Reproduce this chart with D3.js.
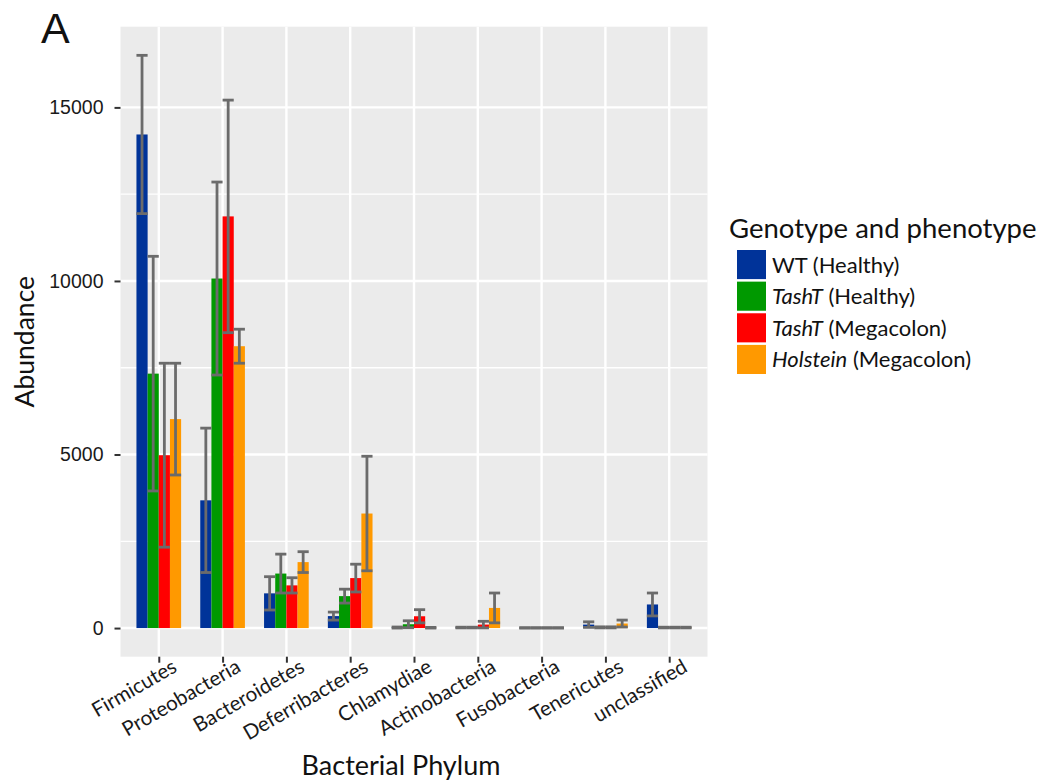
<!DOCTYPE html>
<html>
<head>
<meta charset="utf-8">
<script src="https://cdn.jsdelivr.net/npm/d3@7/dist/d3.min.js"></script>
<style>
  html, body { margin: 0; padding: 0; background: #ffffff; }
  svg { display: block; }
</style>
</head>
<body>
<svg id="chart" width="1053" height="782"></svg>
<script>
// Bacterial phyla on the x axis
const phyla = ["Firmicutes", "Proteobacteria", "Bacteroidetes", "Deferribacteres",
  "Chlamydiae", "Actinobacteria", "Fusobacteria", "Tenericutes", "unclassified"];

// Groups (genotype and phenotype)
const groups = ["wt", "tashH", "tashM", "holM"];
const groupColors = ["#003399", "#009900", "#ff0000", "#ff9900"];

// Mean abundance per group, in phylum order
const meanWT    = [14220, 3680, 1000,  345,  15,  15, 5, 100, 680];
const meanTashH = [ 7330, 10070, 1570,  920, 110,  15, 5,  20,  15];
const meanTashM = [ 4980, 11860, 1230, 1440, 340, 100, 5,  20,  15];
const meanHolM  = [ 6020, 8120, 1900, 3300,  10, 580, 5, 130,  15];

// Standard deviation per group, in phylum order
const sdWT    = [2280, 2080, 480, 115,  15,  10, 5,  80, 330];
const sdTashH = [3380, 2780, 560, 200, 100,  10, 5,  15,  10];
const sdTashM = [2650, 3350, 220, 400, 190,  95, 5,  15,  10];
const sdHolM  = [1610,  490, 300, 1650, 10, 430, 5, 100,  10];

const yTicks = [0, 5000, 10000, 15000];
const yMinor = [2500, 7500, 12500];

const means = [meanWT, meanTashH, meanTashM, meanHolM];
const sds = [sdWT, sdTashH, sdTashM, sdHolM];

const records = [];
phyla.forEach((p, i) => {
  groups.forEach((g, j) => {
    records.push({ phylum: p, group: g, mean: means[j][i], sd: sds[j][i], gi: j });
  });
});

const svg = d3.select("#chart");
const panel = { left: 120.5, right: 707.5, top: 26.7, bottom: 656.7 };

// Discrete x positions with 0.6-step padding on each side
const n = phyla.length;
const step = (panel.right - panel.left) / (n - 1 + 1.2);
const x = d3.scalePoint().domain(phyla)
  .range([panel.left + 0.6 * step, panel.right - 0.6 * step]);
const dodgeWidth = 0.7 * step;
const xg = d3.scaleBand().domain(groups).range([-dodgeWidth / 2, dodgeWidth / 2]).padding(0);
const barW = xg.bandwidth();

// Continuous y with 5% expansion around the data range
const yMax = d3.max(records, d => d.mean + d.sd);
const yLo = Math.min(0, d3.min(records, d => d.mean - d.sd));
const pad = (yMax - yLo) * 0.05;
const y = d3.scaleLinear().domain([yLo - pad, yMax + pad]).range([panel.bottom, panel.top]);

// Panel background and grid
svg.append("rect")
  .attr("x", panel.left).attr("y", panel.top)
  .attr("width", panel.right - panel.left).attr("height", panel.bottom - panel.top)
  .attr("fill", "#ebebeb");

const grid = svg.append("g");
grid.selectAll("line.minor").data(yMinor).enter().append("line")
  .attr("x1", panel.left).attr("x2", panel.right)
  .attr("y1", d => y(d)).attr("y2", d => y(d))
  .attr("stroke", "#ffffff").attr("stroke-width", 1.3);
grid.selectAll("line.major").data(yTicks).enter().append("line")
  .attr("x1", panel.left).attr("x2", panel.right)
  .attr("y1", d => y(d)).attr("y2", d => y(d))
  .attr("stroke", "#ffffff").attr("stroke-width", 2.4);
grid.selectAll("line.vert").data(phyla).enter().append("line")
  .attr("x1", d => x(d)).attr("x2", d => x(d))
  .attr("y1", panel.top).attr("y2", panel.bottom)
  .attr("stroke", "#ffffff").attr("stroke-width", 2.4);

// Bars
svg.append("g").selectAll("rect").data(records).enter().append("rect")
  .attr("x", d => x(d.phylum) + xg(d.group))
  .attr("width", barW)
  .attr("y", d => Math.min(y(d.mean), y(0)))
  .attr("height", d => Math.abs(y(0) - y(d.mean)))
  .attr("fill", d => groupColors[d.gi]);

// Error bars (mean ± sd)
const eb = svg.append("g").attr("stroke", "#6b6b6b").attr("stroke-width", 2.8).attr("fill", "none");
records.forEach(d => {
  const cx = x(d.phylum) + xg(d.group) + barW / 2;
  const hi = y(d.mean + d.sd), lo = y(d.mean - d.sd);
  eb.append("line").attr("x1", cx).attr("x2", cx).attr("y1", hi).attr("y2", lo);
  eb.append("line").attr("x1", cx - barW / 2).attr("x2", cx + barW / 2).attr("y1", hi).attr("y2", hi);
  eb.append("line").attr("x1", cx - barW / 2).attr("x2", cx + barW / 2).attr("y1", lo).attr("y2", lo);
});

// Y axis
const yAxis = svg.append("g").attr("transform", `translate(${panel.left},0)`)
  .call(d3.axisLeft(y).tickValues(yTicks).tickSize(6).tickPadding(11).tickFormat(d3.format("d")));
yAxis.select(".domain").remove();
yAxis.selectAll(".tick line").attr("stroke", "#333333").attr("stroke-width", 2);
yAxis.selectAll(".tick text")
  .attr("font-family", "'Liberation Sans', Arial, sans-serif")
  .attr("font-size", 19.5).attr("fill", "#1a1a1a");

// X axis
const xAxis = svg.append("g").attr("transform", `translate(0,${panel.bottom})`)
  .call(d3.axisBottom(x).tickSize(6).tickFormat(d => d));
xAxis.select(".domain").remove();
xAxis.selectAll(".tick line").attr("stroke", "#333333").attr("stroke-width", 2);
xAxis.selectAll(".tick text")
  .attr("font-family", "Lato, sans-serif")
  .attr("font-size", 20.5).attr("fill", "#1a1a1a")
  .attr("text-anchor", "end")
  .attr("dy", null).attr("y", null)
  .attr("transform", "translate(19,14) rotate(-30)");

// Axis titles
svg.append("text")
  .attr("x", 401).attr("y", 775)
  .attr("text-anchor", "middle")
  .attr("font-family", "Lato, sans-serif").attr("font-size", 27).attr("fill", "#111")
  .text("Bacterial Phylum");

svg.append("text")
  .attr("transform", `translate(34,${(panel.top + panel.bottom) / 2}) rotate(-90)`)
  .attr("text-anchor", "middle")
  .attr("font-family", "Lato, sans-serif").attr("font-size", 26.5).attr("fill", "#111")
  .text("Abundance");

// Panel letter
svg.append("text")
  .attr("x", 41).attr("y", 43)
  .attr("font-family", "'Liberation Sans', Arial, sans-serif").attr("font-size", 43).attr("fill", "#111")
  .text("A");

// Legend
const legend = svg.append("g");
legend.append("text")
  .attr("x", 729).attr("y", 238)
  .attr("font-family", "Lato, sans-serif").attr("font-size", 27.5).attr("fill", "#111")
  .text("Genotype and phenotype");

const legendLabels = [
  [{ t: "WT", i: false }, { t: " (Healthy)", i: false }],
  [{ t: "TashT", i: true }, { t: " (Healthy)", i: false }],
  [{ t: "TashT", i: true }, { t: " (Megacolon)", i: false }],
  [{ t: "Holstein", i: true }, { t: " (Megacolon)", i: false }]
];
const keyY = d3.scaleBand().domain(groups).range([250, 374]).paddingInner(0.08);
groups.forEach((g, j) => {
  legend.append("rect")
    .attr("x", 737).attr("y", keyY(g))
    .attr("width", 29).attr("height", keyY.bandwidth())
    .attr("fill", groupColors[j]);
  const t = legend.append("text")
    .attr("x", 772).attr("y", keyY(g) + keyY.bandwidth() / 2 + 8)
    .attr("font-family", "Lato, sans-serif").attr("font-size", 22).attr("fill", "#111");
  legendLabels[j].forEach(s => {
    t.append("tspan").attr("font-style", s.i ? "italic" : "normal").text(s.t);
  });
});
</script>
</body>
</html>
